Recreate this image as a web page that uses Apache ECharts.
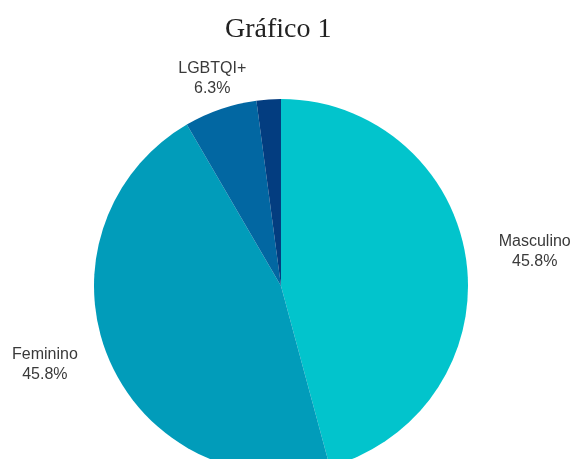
<!DOCTYPE html>
<html>
<head>
<meta charset="utf-8">
<style>
  html, body { margin: 0; padding: 0; background: #fff; }
  #chart { width: 574px; height: 459px; }
</style>
<script src="https://cdn.jsdelivr.net/npm/echarts@6/dist/echarts.min.js"></script>
</head>
<body>
<div id="chart"></div>
<script>
// Gender identity shares (percent)
const categories = ['Masculino', 'Feminino', 'LGBTQI+', 'Não declarado'];
const shares = [45.8, 45.8, 6.3, 2.1];
const showLabel = [true, true, true, false];

const palette = ['#02c4cc', '#019cba', '#0267a2', '#033d80'];

// pie geometry (px)
const CX = 281, CY = 286, R = 187;
// small per-label shifts applied after the radial placement
const labelShift = [[3, -1], [-6, -18], [2, -1], [0, 0]];

const total = shares.reduce((a, b) => a + b, 0);
// mid angle (clockwise from 12 o'clock) of each slice, in radians
const midAngles = [];
let acc = 0;
shares.forEach(v => {
  midAngles.push(((acc + v / 2) / total) * 2 * Math.PI);
  acc += v;
});

const chart = echarts.init(document.getElementById('chart'), null, { renderer: 'canvas' });

chart.setOption({
  animation: false,
  title: {
    text: 'Gráfico 1',
    left: 220,
    top: 11,
    textStyle: {
      fontFamily: 'Liberation Serif',
      fontWeight: 'normal',
      fontSize: 28,
      color: '#222'
    }
  },
  series: [{
    type: 'pie',
    center: [CX, CY],
    radius: R,
    startAngle: 90,
    clockwise: true,
    avoidLabelOverlap: false,
    label: {
      position: 'outside',
      formatter: p => p.name + '\n' + p.value.toFixed(1) + '%',
      fontFamily: 'Liberation Sans',
      fontSize: 16,
      lineHeight: 20,
      color: '#3a3a3a',
      align: 'center'
    },
    labelLine: { show: false },
    labelLayout: function (params) {
      const i = params.dataIndex;
      const a = midAngles[i];
      const sx = Math.sin(a), sy = -Math.cos(a);
      const hw = params.labelRect.width / 2, hh = params.labelRect.height / 2;
      const ext = Math.min(Math.abs(sx) > 1e-6 ? hw / Math.abs(sx) : 1e9,
                           Math.abs(sy) > 1e-6 ? hh / Math.abs(sy) : 1e9);
      const gap = 8 + 22 * sx * sx;
      const d = R + gap + ext;
      return {
        x: CX + d * sx + labelShift[i][0],
        y: CY + d * sy + labelShift[i][1],
        align: 'center',
        verticalAlign: 'middle'
      };
    },
    data: categories.map((name, i) => ({
      name: name,
      value: shares[i],
      itemStyle: { color: palette[i] },
      label: { show: showLabel[i] }
    }))
  }]
});
</script>
</body>
</html>
